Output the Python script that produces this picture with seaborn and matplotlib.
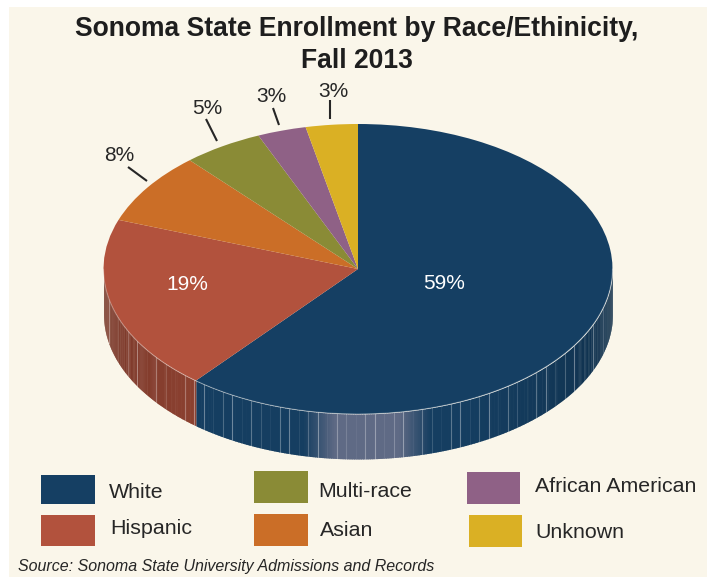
import numpy as np
import matplotlib
matplotlib.use("Agg")
import matplotlib.pyplot as plt
from matplotlib.colors import to_rgb
from matplotlib.patches import Rectangle
import seaborn as sns

# share of the circle each slice really takes, printed labels, names
names = ["White", "Hispanic", "Asian", "Multi-race", "African American", "Unknown"]
shares = [61.0, 19.5, 8.0, 5.1, 3.1, 3.3]
pct_labels = ["59%", "19%", "8%", "5%", "3%", "3%"]
colors = ["#153f63", "#b2523d", "#cb6e27", "#8a8b36", "#8f6186", "#dab024"]

title = "Sonoma State Enrollment by Race/Ethinicity,\nFall 2013"
source = "Source: Sonoma State University Admissions and Records"

W, H = 707, 577
CX, CY, RX, RY, DEPTH = 358, 269, 254.5, 145, 45
BG = "#faf6ea"
INK = "#262626"
GLARE = np.array(to_rgb("#5f6a85"))

sns.set_theme(style="white")
plt.rcParams["font.family"] = ["Liberation Sans", "DejaVu Sans"]
palette = sns.color_palette(colors)


def to_data(px, py):
    return (px - CX) / RX, (CY - py) / RY


fig = plt.figure(figsize=(W / 100, H / 100), dpi=100, facecolor="white")
fig.add_artist(Rectangle((9 / W, 0), 1 - 9 / W, 1 - 7 / H, transform=fig.transFigure,
                         facecolor=BG, edgecolor="none", zorder=-5))
ax = fig.add_axes([0, 0, 1, 1])
ax.patch.set_visible(False)

# top face: a unit pie squashed by the axes scale
ax.pie(shares, colors=palette, startangle=90, counterclock=False, radius=1,
       wedgeprops={"linewidth": 0, "zorder": 5})
ax.set_aspect("auto")
ax.set_xlim(*[(p - CX) / RX for p in (0, W)])
ax.set_ylim((CY - H) / RY, CY / RY)
ax.axis("off")

# side wall, lower half only, in thin strips
d = DEPTH / RY
edges = np.cumsum([0] + shares) / sum(shares) * 360
line_alpha = [0.36, 0.08, 0.24, 0.38, 0.06, 0.3, 0.16, 0.05, 0.3]
rib_x = np.arange(-1 + 0.02, 1, 9.5 / RX)
for i, name in enumerate(names):
    a0, a1 = max(edges[i], 90), min(edges[i + 1], 270)
    if a1 <= a0:
        continue
    base = np.array(to_rgb(colors[i]))
    # one angle at a time; no antialiasing or the seams show as pale lines
    steps = np.arange(a0, a1 + 0.4, 0.4)
    for s0, s1 in zip(steps[:-1], steps[1:]):
        t = np.radians(np.linspace(s0, min(s1 + 0.2, a1), 4))
        x = np.sin(t)
        y = np.cos(t)
        mid = (s0 + s1) / 2
        if i == 0:
            # darker toward the right, glare around the front
            c = base * (0.72 + 0.26 * np.clip((mid - 90) / 65, 0, 1))
            glare = np.clip(1 - (abs(mid - 178) - 7.2) / 7.3, 0, 1)
            c = c + (GLARE - c) * glare
        else:
            c = base * (0.66 + 0.12 * (270 - mid) / 50)
        ax.fill_between(x, y, y - d, color=c, linewidth=0, zorder=2, antialiased=False)
    # ribs
    lo, hi = sorted([np.sin(np.radians(a0)), np.sin(np.radians(a1))])
    if a0 < 90.01:
        hi = 1.0
    if a1 > 269.99:
        lo = -1.0
    for j, rx in enumerate(rib_x[(rib_x > lo) & (rib_x < hi)]):
        ry = -np.sqrt(1 - rx ** 2)
        ax.plot([rx, rx], [ry, ry - d], color="white",
                alpha=line_alpha[j % len(line_alpha)], lw=0.8, zorder=3)
    # light rim along the top edge
    t = np.radians(np.linspace(a0, a1, 200))
    ax.plot(np.sin(t), np.cos(t), color="white", alpha=0.3, lw=0.8, zorder=6)

# outside labels with leader lines, pixel spots
label_px = {2: (119, 155), 3: (207, 108), 4: (271, 96), 5: (333, 91)}
leader_px = {2: ((128, 167), (147, 181)), 3: ((206, 119), (217, 141)),
             4: ((273, 108), (279, 125)), 5: ((330, 100), (330, 119))}
for i in label_px:
    (x0, y0), (x1, y1) = to_data(*leader_px[i][0]), to_data(*leader_px[i][1])
    ax.plot([x0, x1], [y0, y1], color=INK, lw=1.5, zorder=6, solid_capstyle="butt")
    ax.text(*to_data(*label_px[i]), pct_labels[i], ha="center", va="center",
            fontsize=15, color=INK, zorder=7)

# inside labels
for i, pos in zip([0, 1], [(444, 283), (187, 284)]):
    ax.text(*to_data(*pos), pct_labels[i], ha="center", va="center", fontsize=15,
            color="white", zorder=7)

ax.text(*to_data(357, 45), title, ha="center", va="center", fontsize=19.1,
        fontweight="bold", color="#1e1e1e", linespacing=1.26, zorder=7)

# legend drawn by hand, the boxes do not line up in the original
swatches = {"White": (41, 475, 54, 29), "Hispanic": (41, 515, 54, 31),
            "Multi-race": (254, 471, 54, 32), "Asian": (254, 514, 54, 32),
            "African American": (467, 472, 53, 32), "Unknown": (469, 515, 53, 32)}
label_pos = {"White": (109, 492), "Hispanic": (110, 529), "Multi-race": (318, 491),
             "Asian": (320, 531), "African American": (535, 486), "Unknown": (535, 532)}
for i, name in enumerate(names):
    px, py, pw, ph = swatches[name]
    x0, y0 = to_data(px, py + ph)
    ax.add_patch(Rectangle((x0, y0), pw / RX, ph / RY, facecolor=palette[i],
                           edgecolor="none", zorder=6))
    ax.text(*to_data(*label_pos[name]), name, ha="left", va="center", fontsize=15.4,
            color=INK, zorder=7)

ax.text(*to_data(18, 566), source, ha="left", va="center", fontsize=11.5,
        style="italic", color=INK, zorder=7)

fig.savefig("out.png", dpi=100, facecolor=fig.get_facecolor())
